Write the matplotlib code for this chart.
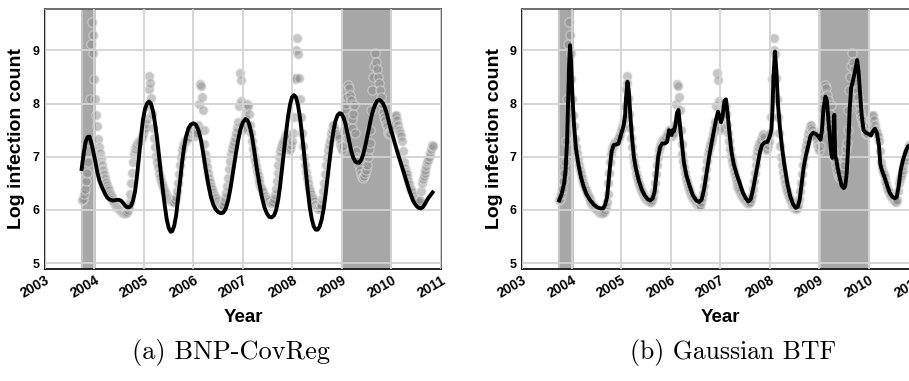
import numpy as np
import matplotlib
matplotlib.use('Agg')
import matplotlib.pyplot as plt

# weekly log infection counts, first week starting ~Oct 2003
start_year = 2003.75
weeks_per_year = 52.18
log_counts = [
    6.18, 6.2, 6.3, 6.4, 6.55, 6.7, 6.9, 7.3, 8.08, 9.13, 9.54, 9.3, 8.95,
    8.46, 8.08, 7.79, 7.58, 7.33, 7.19, 7.07, 6.95, 6.85, 6.75, 6.67, 6.6, 6.53,
    6.47, 6.42, 6.37, 6.32, 6.28, 6.24, 6.2, 6.17, 6.14, 6.11, 6.08, 6.06, 6.04,
    6.02, 6.0, 5.98, 5.96, 5.95, 5.94, 5.94, 5.95, 5.97, 6.0, 6.05, 6.15, 6.3,
    6.5, 6.7, 6.9, 7.05, 7.15, 7.2, 7.25, 7.27, 7.28, 7.3, 7.33, 7.38, 7.43,
    7.5, 7.55, 7.62, 7.72, 7.95, 8.27, 8.52, 8.38, 8.1, 7.8, 7.55, 7.35, 7.18,
    7.02, 6.9, 6.8, 6.7, 6.62, 6.55, 6.48, 6.43, 6.38, 6.34, 6.3, 6.27, 6.24,
    6.22, 6.2, 6.18, 6.17, 6.16, 6.15, 6.15, 6.18, 6.24, 6.35, 6.5, 6.68, 6.85,
    7.0, 7.12, 7.2, 7.26, 7.3, 7.3, 7.32, 7.33, 7.35, 7.38, 7.42, 7.45, 7.5,
    7.5, 7.45, 7.4, 7.5, 7.45, 7.6, 8.0, 8.37, 8.33, 8.12, 7.88, 7.5, 7.25,
    7.05, 6.92, 6.8, 6.7, 6.6, 6.52, 6.45, 6.39, 6.34, 6.29, 6.25, 6.22, 6.19,
    6.16, 6.13, 6.11, 6.09, 6.08, 6.08, 6.1, 6.15, 6.22, 6.32, 6.45, 6.6, 6.77,
    6.92, 7.05, 7.15, 7.22, 7.28, 7.35, 7.45, 7.55, 7.65, 7.95, 8.58, 8.45, 8.05,
    7.6, 7.5, 7.55, 7.75, 7.9, 8.0, 7.95, 7.8, 7.6, 7.45, 7.3, 7.15, 7.02,
    6.92, 6.82, 6.73, 6.65, 6.58, 6.52, 6.46, 6.41, 6.37, 6.33, 6.29, 6.26, 6.23,
    6.2, 6.18, 6.16, 6.14, 6.13, 6.13, 6.15, 6.2, 6.28, 6.4, 6.55, 6.7, 6.85,
    7.0, 7.1, 7.18, 7.24, 7.28, 7.32, 7.38, 7.42, 7.38, 7.25, 7.12, 7.15, 7.22,
    7.3, 7.45, 7.75, 8.46, 8.48, 9.0, 9.23, 8.93, 8.48, 8.08, 7.75, 7.45, 7.2,
    7.0, 6.85, 6.72, 6.6, 6.5, 6.42, 6.35, 6.3, 6.25, 6.2, 6.16, 6.12, 6.09,
    6.06, 6.04, 6.03, 6.02, 6.04, 6.1, 6.2, 6.35, 6.5, 6.68, 6.85, 7.0, 7.12,
    7.22, 7.32, 7.42, 7.5, 7.58, 7.6, 7.55, 7.5, 7.45, 7.42, 7.4, 7.35, 7.25,
    7.18, 7.12, 7.2, 7.5, 7.9, 8.0, 8.13, 8.35, 8.29, 8.16, 8.07, 7.72, 7.55,
    7.8, 7.98, 7.45, 7.1, 7.0, 6.95, 6.85, 6.75, 6.68, 6.62, 6.6, 6.63, 6.7,
    6.75, 6.85, 7.0, 7.15, 7.26, 7.5, 7.88, 8.25, 8.5, 8.7, 8.95, 8.79, 8.66,
    8.5, 8.38, 8.26, 8.13, 8.0, 7.85, 7.75, 7.69, 7.62, 7.57, 7.5, 7.45, 7.42,
    7.45, 7.5, 7.55, 7.6, 7.7, 7.76, 7.79, 7.7, 7.6, 7.5, 7.45, 7.4, 7.3,
    7.1, 6.9, 6.78, 6.72, 6.68, 6.62, 6.55, 6.48, 6.42, 6.37, 6.33, 6.29, 6.26,
    6.23, 6.21, 6.19, 6.17, 6.15, 6.18, 6.35, 6.5, 6.58, 6.63, 6.69, 6.75, 6.82,
    6.9, 6.94, 7.0, 7.08, 7.15, 7.22, 7.2,
]

# BNP-CovReg posterior mean
bnp_year = [
    2003.74, 2003.78, 2003.82, 2003.86, 2003.90, 2003.94, 2003.98, 2004.02, 2004.06, 2004.10,
    2004.14, 2004.18, 2004.22, 2004.26, 2004.30, 2004.35, 2004.40, 2004.45, 2004.50, 2004.54,
    2004.58, 2004.62, 2004.66, 2004.70, 2004.74, 2004.78, 2004.82, 2004.86, 2004.90, 2004.94,
    2004.98, 2005.02, 2005.06, 2005.10, 2005.14, 2005.18, 2005.22, 2005.26, 2005.30, 2005.34,
    2005.38, 2005.42, 2005.46, 2005.50, 2005.54, 2005.57, 2005.61, 2005.65, 2005.69, 2005.73,
    2005.77, 2005.81, 2005.85, 2005.90, 2005.95, 2006.00, 2006.05, 2006.10, 2006.15, 2006.20,
    2006.25, 2006.30, 2006.35, 2006.40, 2006.45, 2006.50, 2006.55, 2006.60, 2006.65, 2006.70,
    2006.75, 2006.80, 2006.85, 2006.90, 2006.95, 2007.00, 2007.05, 2007.09, 2007.13, 2007.18,
    2007.23, 2007.28, 2007.33, 2007.38, 2007.43, 2007.48, 2007.53, 2007.58, 2007.63, 2007.67,
    2007.71, 2007.75, 2007.79, 2007.83, 2007.87, 2007.91, 2007.95, 2007.99, 2008.03, 2008.07,
    2008.11, 2008.15, 2008.19, 2008.23, 2008.27, 2008.31, 2008.35, 2008.39, 2008.43, 2008.47,
    2008.51, 2008.55, 2008.59, 2008.63, 2008.67, 2008.71, 2008.75, 2008.79, 2008.83, 2008.87,
    2008.91, 2008.95, 2008.99, 2009.03, 2009.07, 2009.11, 2009.15, 2009.19, 2009.23, 2009.27,
    2009.31, 2009.35, 2009.39, 2009.43, 2009.47, 2009.51, 2009.55, 2009.59, 2009.63, 2009.67,
    2009.71, 2009.75, 2009.79, 2009.83, 2009.87, 2009.91, 2009.95, 2009.99, 2010.03, 2010.07,
    2010.11, 2010.15, 2010.19, 2010.23, 2010.27, 2010.31, 2010.35, 2010.39, 2010.43, 2010.47,
    2010.51, 2010.55, 2010.59, 2010.63, 2010.67, 2010.71, 2010.75, 2010.79, 2010.83,
]
bnp_val = [
    6.77, 7.05, 7.28, 7.37, 7.38, 7.25, 7.08, 6.9, 6.7, 6.55,
    6.45, 6.37, 6.29, 6.23, 6.2, 6.18, 6.18, 6.19, 6.19, 6.17,
    6.13, 6.08, 6.05, 6.05, 6.08, 6.18, 6.35, 6.65, 7.0, 7.38,
    7.7, 7.9, 8.0, 8.04, 8.0, 7.87, 7.65, 7.38, 7.05, 6.7,
    6.38, 6.08, 5.82, 5.66, 5.59, 5.6, 5.7, 5.9, 6.22, 6.55,
    6.9, 7.18, 7.38, 7.54, 7.61, 7.63, 7.6, 7.5, 7.32, 7.05,
    6.75, 6.48, 6.25, 6.1, 6.01, 5.96, 5.94, 5.95, 6.02, 6.18,
    6.42, 6.72, 7.02, 7.3, 7.52, 7.65, 7.71, 7.69, 7.6, 7.4,
    7.1, 6.78, 6.5, 6.25, 6.06, 5.94, 5.87, 5.86, 5.9, 6.0,
    6.18, 6.45, 6.78, 7.12, 7.45, 7.75, 7.98, 8.12, 8.16, 8.12,
    7.98, 7.75, 7.45, 7.1, 6.72, 6.36, 6.05, 5.83, 5.69, 5.63,
    5.63, 5.69, 5.82, 6.02, 6.3, 6.62, 6.95, 7.25, 7.5, 7.68,
    7.78, 7.82, 7.81, 7.74, 7.62, 7.45, 7.27, 7.1, 6.98, 6.91,
    6.89, 6.89, 6.94, 7.05, 7.2, 7.38, 7.57, 7.74, 7.88, 7.98,
    8.05, 8.07, 8.05, 8.0, 7.92, 7.8, 7.65, 7.5, 7.38, 7.25,
    7.12, 7.0, 6.88, 6.76, 6.64, 6.52, 6.4, 6.29, 6.19, 6.12,
    6.07, 6.04, 6.03, 6.05, 6.1, 6.17, 6.23, 6.28, 6.33,
]

# Gaussian BTF posterior mean
btf_year = [
    2003.75, 2003.80, 2003.85, 2003.88, 2003.91, 2003.93, 2003.95, 2003.97, 2003.99, 2004.02,
    2004.05, 2004.09, 2004.14, 2004.19, 2004.24, 2004.30, 2004.37, 2004.45, 2004.52, 2004.58,
    2004.64, 2004.68, 2004.72, 2004.75, 2004.78, 2004.81, 2004.85, 2004.90, 2004.95, 2005.00,
    2005.05, 2005.08, 2005.10, 2005.13, 2005.16, 2005.19, 2005.22, 2005.26, 2005.30, 2005.36,
    2005.42, 2005.48, 2005.54, 2005.59, 2005.64, 2005.68, 2005.72, 2005.75, 2005.79, 2005.83,
    2005.88, 2005.93, 2005.97, 2006.00, 2006.02, 2006.04, 2006.07, 2006.10, 2006.13, 2006.16,
    2006.19, 2006.23, 2006.27, 2006.32, 2006.39, 2006.45, 2006.52, 2006.58, 2006.63, 2006.68,
    2006.73, 2006.78, 2006.83, 2006.88, 2006.92, 2006.96, 2006.99, 2007.02, 2007.05, 2007.09,
    2007.12, 2007.15, 2007.19, 2007.23, 2007.28, 2007.34, 2007.40, 2007.46, 2007.52, 2007.57,
    2007.62, 2007.67, 2007.72, 2007.77, 2007.81, 2007.85, 2007.90, 2007.96, 2008.01, 2008.04,
    2008.06, 2008.08, 2008.11, 2008.14, 2008.17, 2008.21, 2008.25, 2008.30, 2008.36, 2008.42,
    2008.48, 2008.53, 2008.57, 2008.61, 2008.65, 2008.69, 2008.73, 2008.78, 2008.83, 2008.88,
    2008.94, 2008.99, 2009.03, 2009.06, 2009.09, 2009.13, 2009.16, 2009.19, 2009.22, 2009.25,
    2009.27, 2009.29, 2009.30, 2009.31, 2009.32, 2009.33, 2009.35, 2009.38, 2009.42, 2009.46,
    2009.50, 2009.53, 2009.56, 2009.59, 2009.62, 2009.65, 2009.69, 2009.73, 2009.77, 2009.80,
    2009.83, 2009.86, 2009.90, 2009.95, 2010.00, 2010.05, 2010.09, 2010.13, 2010.17, 2010.21,
    2010.24, 2010.28, 2010.33, 2010.38, 2010.43, 2010.48, 2010.53, 2010.57, 2010.61, 2010.65,
    2010.70, 2010.75, 2010.80, 2010.84,
]
btf_val = [
    6.18, 6.3, 6.5, 6.75, 7.3, 8.0, 8.7, 9.1, 8.8, 8.1,
    7.6, 7.15, 6.85, 6.62, 6.45, 6.3, 6.19, 6.1, 6.05, 6.03,
    6.03, 6.1, 6.25, 6.55, 6.85, 7.1, 7.22, 7.23, 7.25, 7.42,
    7.58, 7.75, 8.1, 8.41, 8.2, 7.75, 7.38, 7.0, 6.78, 6.55,
    6.38, 6.27, 6.2, 6.18, 6.22, 6.35, 6.7, 7.0, 7.18, 7.25,
    7.25, 7.28, 7.5, 7.45, 7.41, 7.5, 7.48, 7.6, 7.82, 7.88,
    7.6, 7.25, 6.9, 6.65, 6.44, 6.28, 6.18, 6.15, 6.2, 6.4,
    6.7, 7.0, 7.26, 7.5, 7.7, 7.85, 7.75, 7.65, 7.75, 8.05,
    8.08, 7.85, 7.45, 7.1, 6.85, 6.66, 6.5, 6.33, 6.22, 6.16,
    6.2, 6.4, 6.65, 6.9, 7.1, 7.22, 7.27, 7.28, 7.4, 7.52,
    7.9, 8.5, 8.98, 8.6, 8.0, 7.55, 7.2, 6.85, 6.5, 6.25,
    6.1, 6.04, 6.06, 6.2, 6.5, 6.8, 7.0, 7.2, 7.4, 7.45,
    7.43, 7.38, 7.32, 7.5, 7.9, 8.13, 8.05, 7.7, 7.35, 7.05,
    6.98, 7.2, 7.75, 7.79, 7.3, 7.0, 6.95, 6.78, 6.6, 6.45,
    6.41, 6.45, 6.7, 7.2, 7.9, 8.3, 8.45, 8.62, 8.82, 8.6,
    8.2, 7.8, 7.5, 7.45, 7.43, 7.4, 7.48, 7.53, 7.45, 7.22,
    6.85, 6.72, 6.6, 6.45, 6.32, 6.25, 6.22, 6.24, 6.45, 6.75,
    6.95, 7.1, 7.2, 7.2,
]

# shaded periods
shade_spans = [(2003.74, 2004.02), (2009.01, 2010.0)]
year_ticks = list(range(2003, 2012))
y_ticks = [5, 6, 7, 8, 9]
panel_titles = ['(a) BNP-CovReg', '(b) Gaussian BTF']

weeks = np.arange(len(log_counts))
obs_year = start_year + weeks / weeks_per_year

fig = plt.figure(figsize=(9.09, 3.81), dpi=100)
ax_pos = [[0.0495, 0.294, 0.4356, 0.6824], [0.5743, 0.294, 0.4356, 0.6824]]
fits = [(bnp_year, bnp_val), (btf_year, btf_val)]

for pos, (fx, fy) in zip(ax_pos, fits):
    ax = fig.add_axes(pos)
    for a, b in shade_spans:
        ax.axvspan(a, b, facecolor='#a7a7a7', edgecolor='#c4c4c4', lw=1.5, zorder=0)
    ax.grid(True, color='#d3d3d3', lw=1.3, zorder=1)
    ax.set_axisbelow(False)
    ax.scatter(obs_year, log_counts, s=44, c='#8e8e8e', alpha=0.5,
               edgecolors='#e2e2e2', linewidths=1.0, zorder=2)
    ax.plot(fx, fy, color='black', lw=2.8, zorder=3)

    ax.set_xlim(2003, 2011)
    ax.set_ylim(4.89, 9.78)
    ax.set_xticks(year_ticks)
    ax.set_xticklabels([str(y) for y in year_ticks], rotation=30, ha='right',
                       rotation_mode='anchor', fontweight='bold', fontsize=10,
                       family='Liberation Sans')
    ax.set_yticks(y_ticks)
    ax.set_yticklabels([str(y) for y in y_ticks], fontweight='bold', fontsize=9,
                       family='Liberation Sans')
    ax.tick_params(axis='x', length=0, pad=3)
    ax.tick_params(axis='y', length=0, pad=4)
    ax.set_xlabel('Year', fontsize=13.5, fontweight='bold', family='Liberation Sans',
                  labelpad=6)
    ax.set_ylabel('Log infection count', fontsize=14, fontweight='bold',
                  family='Liberation Sans', labelpad=5)
    for side in ['top', 'right']:
        ax.spines[side].set_color('#555555')
        ax.spines[side].set_linewidth(1.2)
    for side in ['bottom', 'left']:
        ax.spines[side].set_color('#111111')
        ax.spines[side].set_linewidth(1.3)

fig.text(0.254, 0.076, panel_titles[0], ha='center', va='center', fontsize=19,
         family='cmr10')
fig.text(0.806, 0.076, panel_titles[1], ha='center', va='center', fontsize=18.5,
         family='cmr10')

fig.savefig('out.png', dpi=100)
